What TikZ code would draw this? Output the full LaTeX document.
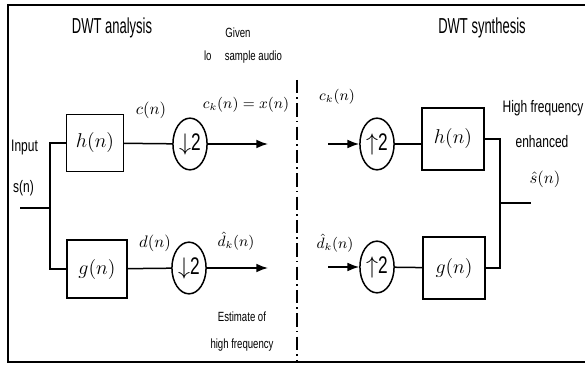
\documentclass[tikz,border=0pt]{standalone}
\usepackage{fontspec}
\newfontfamily\narrowsf[FakeStretch=0.72]{Liberation Sans}
\newfontfamily\titlesf[FakeStretch=0.6]{Liberation Sans}
\usetikzlibrary{shapes.geometric, arrows.meta}
\usetikzlibrary{positioning}
\tikzset{
filter/.style={
	rectangle,
	draw,
	line width=0.9pt,
	minimum width=34pt,
	minimum height=34pt,
	inner sep=1pt,
	font=\large
},
rate/.style={
	ellipse,
	draw,
	line width=0.9pt,
	minimum width=20.5pt,
	minimum height=31pt,
	inner sep=0pt,
	font=\narrowsf\Large
},
lbl/.style={
	inner sep=0.5pt,
	font=\narrowsf
},
title/.style={
	inner sep=1pt,
	font=\titlesf\fontsize{13}{15}\selectfont
},
wire/.style={line width=0.9pt},
arrow/.style={-Latex, line width=0.9pt}
}

\begin{document}
\begin{tikzpicture}[x=0.6pt, y=-0.6pt]
\useasboundingbox (0,0) rectangle (585,370);

% frame and divider
\draw[wire] (585,5) -- (8,5) -- (8,362) -- (585,362);
\draw[line width=1.2pt, dash pattern=on 8pt off 2.5pt on 1pt off 2.5pt] (297,80) -- (297,362);

% titles and notes
\node (TitleAna) [title] at (112,28) {DWT analysis};
\node (TitleSyn) [title] at (482,28) {DWT synthesis};
\node (Given) [lbl, font=\narrowsf\footnotesize] at (238,33) {Given};
\node (LoAudio) [lbl, font=\narrowsf\footnotesize] at (243,57) {lo\quad sample audio};
\node (Estimate) [lbl, font=\narrowsf\footnotesize] at (242,317) {Estimate of};
\node (HighFreq) [lbl, font=\narrowsf\footnotesize] at (242,345) {high frequency};

% analysis bank
\node (Input) [lbl, anchor=west] at (10,147) {Input};
\node (Sig) [lbl, anchor=west] at (12,188) {s(n)};
\coordinate (In) at (20,208);
\coordinate (Split) at (50,208);
\node (Hana) [filter] at (95,143) {$h(n)$};
\node (Gana) [filter, minimum width=36pt, minimum height=35pt] at (97,269) {$g(n)$};
\node (DownC) [rate] at (190,144) {$\downarrow$2};
\node (DownD) [rate] at (189,268) {$\downarrow$2};
\coordinate (OutC) at (268,144);
\coordinate (OutD) at (268,268);

\draw[wire] (In) -- (Split);
\draw[wire] (Split) |- (Hana.west);
\draw[wire] (Split) |- (Gana.west);
\draw[wire] (Hana) -- (DownC);
\draw[wire] (Gana) -- (DownD);
\draw[arrow] (DownC) -- (OutC);
\draw[arrow] (DownD) -- (OutD);

\node (Cn) [lbl, font=\normalsize] at (151,110) {$c(n)$};
\node (Dn) [lbl, font=\normalsize] at (155,243) {$d(n)$};
\node (Ck) [lbl, font=\small] at (246,105) {$c_k(n) = x(n)$};
\node (Dk) [lbl, font=\small] at (236,241) {$\hat{d}_k(n)$};

% synthesis bank
\coordinate (InC) at (328,144);
\coordinate (InD) at (328,267);
\node (UpC) [rate] at (377,144) {$\uparrow$2};
\node (UpD) [rate] at (377,267) {$\uparrow$2};
\node (Hsyn) [filter, minimum width=37pt, minimum height=37pt] at (453,139) {$h(n)$};
\node (Gsyn) [filter, minimum width=37pt, minimum height=37pt] at (454,268) {$g(n)$};
\coordinate (Join) at (500,203);
\coordinate (Out) at (531,203);

\draw[arrow] (InC) -- (UpC);
\draw[arrow] (InD) -- (UpD);
\draw[wire] (UpC) -- (UpC -| Hsyn.west);
\draw[wire] (UpD) -- (Gsyn);
\draw[wire] (Hsyn.east) -| (Join);
\draw[wire] (Gsyn.east) -| (Join);
\draw[wire] (Join) -- (Out);

\node (CkSyn) [lbl, font=\small] at (337,97) {$c_k(n)$};
\node (DkSyn) [lbl, font=\small] at (335,243) {$\hat{d}_k(n)$};
\node (Enh1) [lbl] at (543,108) {High frequency};
\node (Enh2) [lbl] at (542,142) {enhanced};
\node (Shat) [lbl, font=\normalsize] at (545,179) {$\hat{s}(n)$};

\end{tikzpicture}
\end{document}
